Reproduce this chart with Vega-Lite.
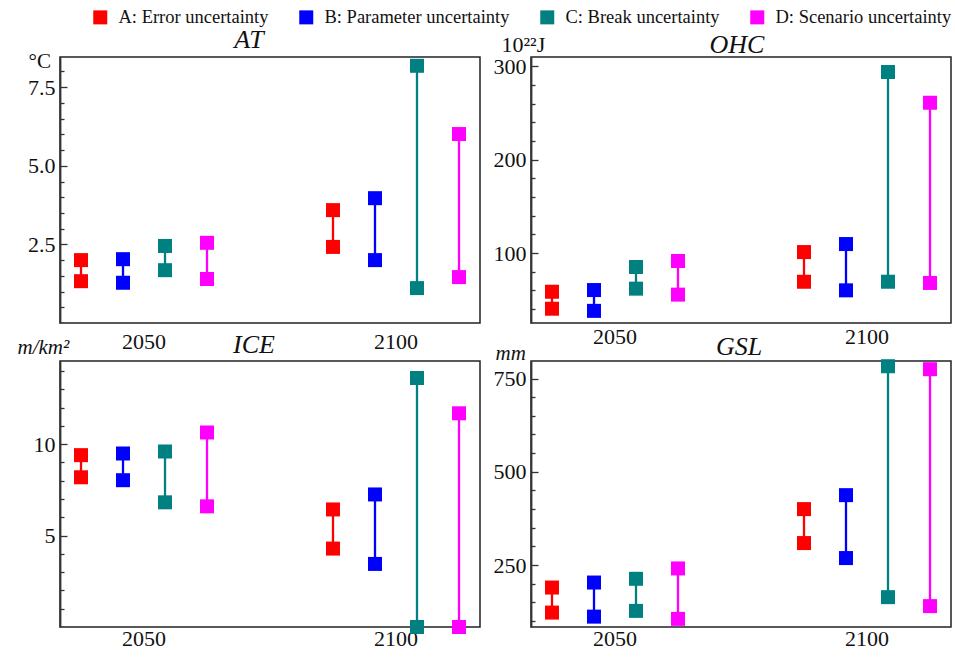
{
  "$schema": "https://vega.github.io/schema/vega-lite/v6.json",
  "padding": {"left": 16, "top": 8, "right": 5, "bottom": 5},
  "bounds": "flush",
  "spacing": {"row": 38, "column": 51},
  "columns": 2,
  "config": {
    "font": "Liberation Serif",
    "view": {"stroke": "#222222", "strokeWidth": 1.5},
    "axis": {"labelFont": "Liberation Serif", "labelColor": "#111111", "titleFont": "Liberation Serif", "titleColor": "#111111", "titleFontWeight": "normal", "grid": false},
    "title": {"font": "Liberation Serif", "fontStyle": "italic", "fontWeight": "normal", "fontSize": 26, "color": "#111111"}
  },
  "data": {
    "values": [
      {"panel": "AT", "year": "2050", "source": "A: Error uncertainty", "low": 1.33, "high": 2.0},
      {"panel": "AT", "year": "2050", "source": "B: Parameter uncertainty", "low": 1.28, "high": 2.03},
      {"panel": "AT", "year": "2050", "source": "C: Break uncertainty", "low": 1.68, "high": 2.45},
      {"panel": "AT", "year": "2050", "source": "D: Scenario uncertainty", "low": 1.4, "high": 2.55},
      {"panel": "AT", "year": "2100", "source": "A: Error uncertainty", "low": 2.42, "high": 3.59},
      {"panel": "AT", "year": "2100", "source": "B: Parameter uncertainty", "low": 2.0, "high": 3.97},
      {"panel": "AT", "year": "2100", "source": "C: Break uncertainty", "low": 1.11, "high": 8.18},
      {"panel": "AT", "year": "2100", "source": "D: Scenario uncertainty", "low": 1.46, "high": 6.01},
      {"panel": "OHC", "year": "2050", "source": "A: Error uncertainty", "low": 40.3, "high": 58.5},
      {"panel": "OHC", "year": "2050", "source": "B: Parameter uncertainty", "low": 38.0, "high": 60.3},
      {"panel": "OHC", "year": "2050", "source": "C: Break uncertainty", "low": 61.8, "high": 85.0},
      {"panel": "OHC", "year": "2050", "source": "D: Scenario uncertainty", "low": 55.4, "high": 91.4},
      {"panel": "OHC", "year": "2100", "source": "A: Error uncertainty", "low": 69.2, "high": 101.0},
      {"panel": "OHC", "year": "2100", "source": "B: Parameter uncertainty", "low": 60.0, "high": 109.6},
      {"panel": "OHC", "year": "2100", "source": "C: Break uncertainty", "low": 69.2, "high": 293.9},
      {"panel": "OHC", "year": "2100", "source": "D: Scenario uncertainty", "low": 67.9, "high": 261.0},
      {"panel": "ICE", "year": "2050", "source": "A: Error uncertainty", "low": 8.19, "high": 9.4},
      {"panel": "ICE", "year": "2050", "source": "B: Parameter uncertainty", "low": 8.03, "high": 9.49},
      {"panel": "ICE", "year": "2050", "source": "C: Break uncertainty", "low": 6.82, "high": 9.6},
      {"panel": "ICE", "year": "2050", "source": "D: Scenario uncertainty", "low": 6.6, "high": 10.64},
      {"panel": "ICE", "year": "2100", "source": "A: Error uncertainty", "low": 4.29, "high": 6.43},
      {"panel": "ICE", "year": "2100", "source": "B: Parameter uncertainty", "low": 3.45, "high": 7.25},
      {"panel": "ICE", "year": "2100", "source": "C: Break uncertainty", "low": 0.0, "high": 13.62},
      {"panel": "ICE", "year": "2100", "source": "D: Scenario uncertainty", "low": 0.0, "high": 11.69},
      {"panel": "GSL", "year": "2050", "source": "A: Error uncertainty", "low": 122.6, "high": 189.8},
      {"panel": "GSL", "year": "2050", "source": "B: Parameter uncertainty", "low": 111.8, "high": 203.2},
      {"panel": "GSL", "year": "2050", "source": "C: Break uncertainty", "low": 127.2, "high": 213.2},
      {"panel": "GSL", "year": "2050", "source": "D: Scenario uncertainty", "low": 105.8, "high": 241.0},
      {"panel": "GSL", "year": "2100", "source": "A: Error uncertainty", "low": 309.0, "high": 400.0},
      {"panel": "GSL", "year": "2100", "source": "B: Parameter uncertainty", "low": 268.8, "high": 437.4},
      {"panel": "GSL", "year": "2100", "source": "C: Break uncertainty", "low": 164.0, "high": 783.0},
      {"panel": "GSL", "year": "2100", "source": "D: Scenario uncertainty", "low": 140.0, "high": 775.0}
    ]
  },
  "concat": [
    {
      "width": 420,
      "height": 266,
      "title": {"text": "AT", "dx": -21, "offset": -3},
      "transform": [{"filter": "datum.panel === 'AT'"}],
      "encoding": {
        "x": {"field": "year", "type": "nominal", "title": null,
              "scale": {"paddingInner": 0.3333, "paddingOuter": 0},
              "axis": {"domain": false, "ticks": false, "labelAngle": 0, "labelFont": "Liberation Serif", "labelFontSize": 22, "labelPadding": 8,
                       "encode": {"labels": {"update": {"dx": {"signal": "datum.value === '2050' ? -7 : 2"}}}}}},
        "xOffset": {"field": "source", "type": "nominal", "scale": {"paddingInner": 0, "paddingOuter": 0}},
        "color": {"field": "source", "type": "nominal", "title": null,
                  "scale": {"domain": ["A: Error uncertainty", "B: Parameter uncertainty", "C: Break uncertainty", "D: Scenario uncertainty"],
                            "range": ["#ff0000", "#0000ff", "#008080", "#ff00ff"]},
                  "legend": {"orient": "none", "direction": "horizontal", "legendX": 31, "legendY": -49, "padding": 0,
                             "symbolType": "square", "symbolSize": 196, "symbolStrokeWidth": 0, "symbolOpacity": 1,
                             "labelFont": "Liberation Serif", "labelFontSize": 18.5, "labelColor": "#111111", "labelOffset": 9,
                             "columnPadding": 28, "labelLimit": 400}}
      },
      "resolve": {"axis": {"y": "independent"}},
      "layer": [
        {
          "mark": {"type": "rule", "strokeWidth": 2.3},
          "encoding": {
            "y": {"field": "low", "type": "quantitative", "scale": {"domain": [0, 8.46], "nice": false, "zero": false},
                  "axis": {"orient": "left", "values": [2.5, 5, 7.5], "format": ".1f", "labelFont": "Liberation Serif", "labelFontSize": 22, "tickSize": -7, "labelPadding": 12,
                           "domainWidth": 1.8, "domainColor": "#333333", "tickColor": "#333333", "tickWidth": 1.3,
                           "title": "°C", "titleFont": "Liberation Serif", "titleAngle": 0, "titleFontSize": 21, "titleAlign": "left", "titleBaseline": "alphabetic", "titleX": -32, "titleY": 10}},
            "y2": {"field": "high"}
          }
        },
        {
          "mark": {"type": "square", "size": 196, "opacity": 1},
          "encoding": {
            "y": {"field": "low", "type": "quantitative",
                  "axis": {"orient": "left", "values": [0.5, 1, 1.5, 2, 3, 3.5, 4, 4.5, 5.5, 6, 6.5, 7, 8], "labels": false, "domain": false,
                           "tickSize": -4, "tickColor": "#333333", "tickWidth": 1.3, "title": null}}
          }
        },
        {
          "mark": {"type": "square", "size": 196, "opacity": 1},
          "encoding": {"y": {"field": "high", "type": "quantitative", "axis": null}}
        }
      ]
    },
    {
      "width": 420,
      "height": 266,
      "title": {"text": "OHC", "dx": -4, "offset": -25},
      "transform": [{"filter": "datum.panel === 'OHC'"}],
      "encoding": {
        "x": {"field": "year", "type": "nominal", "title": null,
              "scale": {"paddingInner": 0.3333, "paddingOuter": 0},
              "axis": {"domain": false, "ticks": false, "labelAngle": 0, "labelFont": "Liberation Serif", "labelFontSize": 22, "labelPadding": 3,
                       "encode": {"labels": {"update": {"dx": {"signal": "datum.value === '2050' ? -10 : 5"}}}}}},
        "xOffset": {"field": "source", "type": "nominal", "scale": {"paddingInner": 0, "paddingOuter": 0}},
        "color": {"field": "source", "type": "nominal"}
      },
      "resolve": {"axis": {"y": "independent"}},
      "layer": [
        {
          "mark": {"type": "rule", "strokeWidth": 2.3},
          "encoding": {
            "y": {"field": "low", "type": "quantitative", "scale": {"domain": [25, 310], "nice": false, "zero": false},
                  "axis": {"orient": "left", "values": [100, 200, 300], "labelFont": "Liberation Serif", "labelFontSize": 22, "tickSize": -7, "labelPadding": 12,
                           "domainWidth": 1.8, "domainColor": "#333333", "tickColor": "#333333", "tickWidth": 1.3,
                           "title": "10²²J", "titleFont": "Liberation Serif", "titleAngle": 0, "titleFontSize": 22, "titleAlign": "left", "titleBaseline": "alphabetic", "titleX": -30, "titleY": -6}},
            "y2": {"field": "high"}
          }
        },
        {
          "mark": {"type": "square", "size": 196, "opacity": 1},
          "encoding": {
            "y": {"field": "low", "type": "quantitative",
                  "axis": {"orient": "left", "values": [40, 60, 80, 120, 140, 160, 180, 220, 240, 260, 280], "labels": false, "domain": false,
                           "tickSize": -4, "tickColor": "#333333", "tickWidth": 1.3, "title": null}}
          }
        },
        {
          "mark": {"type": "square", "size": 196, "opacity": 1},
          "encoding": {"y": {"field": "high", "type": "quantitative", "axis": null}}
        }
      ]
    },
    {
      "width": 420,
      "height": 266,
      "title": {"text": "ICE", "dx": -16, "offset": -22},
      "transform": [{"filter": "datum.panel === 'ICE'"}],
      "encoding": {
        "x": {"field": "year", "type": "nominal", "title": null,
              "scale": {"paddingInner": 0.3333, "paddingOuter": 0},
              "axis": {"domain": false, "ticks": false, "labelAngle": 0, "labelFont": "Liberation Serif", "labelFontSize": 22, "labelPadding": 1,
                       "encode": {"labels": {"update": {"dx": {"signal": "datum.value === '2050' ? -20 : -17"}, "dy": {"signal": "datum.value === '2050' ? 0 : -2"}}}}}},
        "xOffset": {"field": "source", "type": "nominal", "scale": {"paddingInner": 0, "paddingOuter": 0}},
        "color": {"field": "source", "type": "nominal"}
      },
      "resolve": {"axis": {"y": "independent"}},
      "layer": [
        {
          "mark": {"type": "rule", "strokeWidth": 2.3},
          "encoding": {
            "y": {"field": "low", "type": "quantitative", "scale": {"domain": [0, 14.55], "nice": false, "zero": false},
                  "axis": {"orient": "left", "values": [5, 10], "labelFont": "Liberation Serif", "labelFontSize": 22, "tickSize": -7, "labelPadding": 12,
                           "domainWidth": 1.8, "domainColor": "#333333", "tickColor": "#333333", "tickWidth": 1.3,
                           "title": "m/km²", "titleFont": "Liberation Serif", "titleAngle": 0, "titleFontSize": 21, "titleFontStyle": "italic", "titleAlign": "left", "titleBaseline": "alphabetic", "titleX": -43, "titleY": -8}},
            "y2": {"field": "high"}
          }
        },
        {
          "mark": {"type": "square", "size": 196, "opacity": 1},
          "encoding": {
            "y": {"field": "low", "type": "quantitative",
                  "axis": {"orient": "left", "values": [1, 2, 3, 4, 6, 7, 8, 9, 11, 12, 13, 14], "labels": false, "domain": false,
                           "tickSize": -4, "tickColor": "#333333", "tickWidth": 1.3, "title": null}}
          }
        },
        {
          "mark": {"type": "square", "size": 196, "opacity": 1},
          "encoding": {"y": {"field": "high", "type": "quantitative", "axis": null}}
        }
      ]
    },
    {
      "width": 420,
      "height": 266,
      "title": {"text": "GSL", "dx": -2, "offset": -18},
      "transform": [{"filter": "datum.panel === 'GSL'"}],
      "encoding": {
        "x": {"field": "year", "type": "nominal", "title": null,
              "scale": {"paddingInner": 0.3333, "paddingOuter": 0},
              "axis": {"domain": false, "ticks": false, "labelAngle": 0, "labelFont": "Liberation Serif", "labelFontSize": 22, "labelPadding": 1,
                       "encode": {"labels": {"update": {"dx": {"signal": "datum.value === '2050' ? -20 : 16"}, "dy": {"signal": "datum.value === '2050' ? 0 : -5"}}}}}},
        "xOffset": {"field": "source", "type": "nominal", "scale": {"paddingInner": 0, "paddingOuter": 0}},
        "color": {"field": "source", "type": "nominal"}
      },
      "resolve": {"axis": {"y": "independent"}},
      "layer": [
        {
          "mark": {"type": "rule", "strokeWidth": 2.3},
          "encoding": {
            "y": {"field": "low", "type": "quantitative", "scale": {"domain": [84, 797], "nice": false, "zero": false},
                  "axis": {"orient": "left", "values": [250, 500, 750], "labelFont": "Liberation Serif", "labelFontSize": 22, "tickSize": -7, "labelPadding": 12,
                           "domainWidth": 1.8, "domainColor": "#333333", "tickColor": "#333333", "tickWidth": 1.3,
                           "title": "mm", "titleFont": "Liberation Serif", "titleAngle": 0, "titleFontSize": 21, "titleFontStyle": "italic", "titleAlign": "left", "titleBaseline": "alphabetic", "titleX": -36, "titleY": -2}},
            "y2": {"field": "high"}
          }
        },
        {
          "mark": {"type": "square", "size": 196, "opacity": 1},
          "encoding": {
            "y": {"field": "low", "type": "quantitative",
                  "axis": {"orient": "left", "values": [100, 150, 200, 300, 350, 400, 450, 550, 600, 650, 700], "labels": false, "domain": false,
                           "tickSize": -4, "tickColor": "#333333", "tickWidth": 1.3, "title": null}}
          }
        },
        {
          "mark": {"type": "square", "size": 196, "opacity": 1},
          "encoding": {"y": {"field": "high", "type": "quantitative", "axis": null}}
        }
      ]
    }
  ]
}
